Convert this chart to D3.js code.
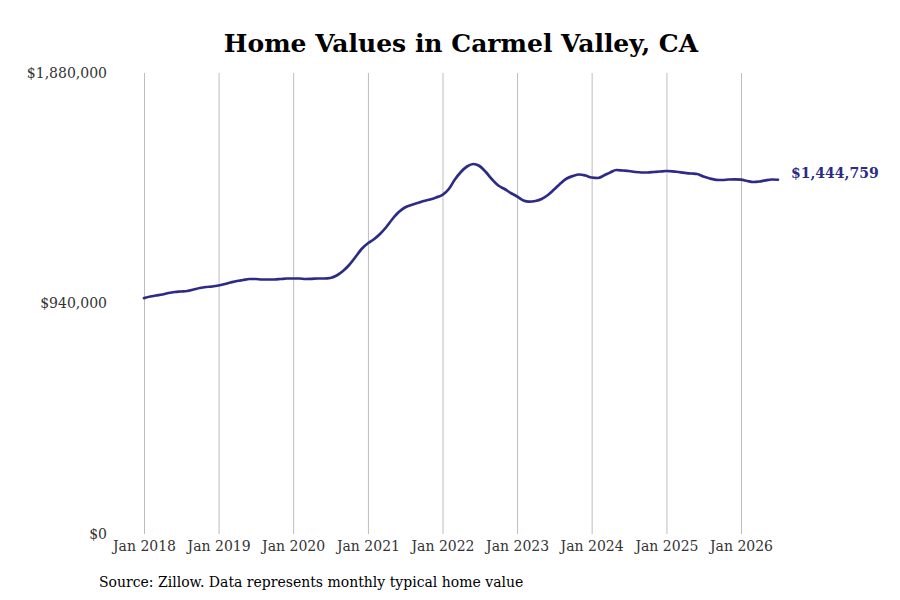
<!DOCTYPE html>
<html>
<head>
<meta charset="utf-8">
<script src="https://cdn.jsdelivr.net/npm/d3@7"></script>
<style>
  html, body { margin: 0; padding: 0; background: #fff; }
  svg { display: block; }
</style>
</head>
<body>
<svg id="chart" width="900" height="600"></svg>
<script>
// ---- Data ----
const startMonth = "2018-01";
const values = [
  // 2018
  962000, 968500, 972600, 976700, 982800, 986900, 988900, 991000, 997100, 1003200, 1007300, 1009300,
  // 2019
  1013400, 1019500, 1025600, 1031800, 1035800, 1039900, 1039900, 1037900, 1037900, 1037900, 1039900, 1042000,
  // 2020
  1042000, 1042000, 1039900, 1040700, 1042000, 1042000, 1044000, 1054200, 1072500, 1097000, 1129600, 1162300,
  // 2021
  1185500, 1203000, 1223400, 1252000, 1284600, 1313100, 1331500, 1341700, 1349800, 1358000, 1364100, 1372300,
  // 2022
  1382500, 1406900, 1443600, 1476300, 1498700, 1508900, 1500700, 1476300, 1445700, 1421200, 1406900, 1390600,
  // 2023
  1376400, 1360000, 1355200, 1358000, 1366200, 1382500, 1404900, 1429400, 1449800, 1460000, 1466100, 1462000,
  // 2024
  1453800, 1451800, 1462000, 1474200, 1484400, 1482400, 1480300, 1476300, 1474200, 1474200, 1476300, 1478300,
  // 2025
  1480300, 1479100, 1476300, 1473000, 1470200, 1468100, 1457900, 1449800, 1444500, 1443600, 1445700, 1446500,
  // 2026
  1444900, 1439600, 1435500, 1437500, 1442400, 1445700, 1444759
];
const yTicks = [0, 940000, 1880000];
const xTickYears = [2018, 2019, 2020, 2021, 2022, 2023, 2024, 2025, 2026];
const titleText = "Home Values in Carmel Valley, CA";
const sourceText = "Source: Zillow. Data represents monthly typical home value";

// ---- Build series ----
const parse = d3.timeParse("%Y-%m");
const start = parse(startMonth);
const data = values.map((v, i) => ({ date: d3.timeMonth.offset(start, i), value: v }));
const xTicks = xTickYears.map(y => new Date(y, 0, 1));

// ---- Layout ----
const svg = d3.select("#chart");
const x0 = 144, x1 = 741; // Jan 2018 .. Jan 2026
const yTop = 73, yBot = 534;
const lineColor = "#2e2b87";
const serif = "'DejaVu Serif', serif";

const x = d3.scaleTime()
  .domain([new Date(2018, 0, 1), new Date(2026, 0, 1)])
  .range([x0, x1]);
const y = d3.scaleLinear()
  .domain([0, 1880000])
  .range([yBot, yTop]);

// Vertical gridlines
const xAxis = d3.axisBottom(x)
  .tickValues(xTicks)
  .tickSize(-(yBot - yTop))
  .tickPadding(7)
  .tickFormat(d3.timeFormat("Jan %Y"));
const gx = svg.append("g")
  .attr("transform", `translate(0,${yBot})`)
  .call(xAxis);
gx.select(".domain").remove();
gx.selectAll(".tick line").attr("stroke", "#bdbdbd").attr("stroke-width", 1);
gx.selectAll(".tick text")
  .attr("font-family", serif)
  .attr("font-size", 14)
  .attr("fill", "#333");

// Y axis labels
const yAxis = d3.axisLeft(y)
  .tickValues(yTicks)
  .tickSize(0)
  .tickPadding(0)
  .tickFormat(d => "$" + d3.format(",")(d));
const gy = svg.append("g")
  .attr("transform", `translate(107,0)`)
  .call(yAxis);
gy.select(".domain").remove();
gy.selectAll(".tick text")
  .attr("font-family", serif)
  .attr("font-size", 14)
  .attr("fill", "#333");

// Line
const line = d3.line()
  .x(d => x(d.date))
  .y(d => y(d.value))
  .curve(d3.curveMonotoneX);
svg.append("path")
  .datum(data)
  .attr("fill", "none")
  .attr("stroke", lineColor)
  .attr("stroke-width", 2.7)
  .attr("stroke-linejoin", "round")
  .attr("stroke-linecap", "round")
  .attr("d", line);

// End label
const last = data[data.length - 1];
svg.append("text")
  .attr("x", x(last.date) + 13)
  .attr("y", y(last.value) - 6)
  .attr("dominant-baseline", "middle")
  .attr("font-family", serif)
  .attr("font-weight", "bold")
  .attr("font-size", 14)
  .attr("fill", lineColor)
  .text("$" + d3.format(",")(last.value));

// Title
svg.append("text")
  .attr("x", 461)
  .attr("y", 52)
  .attr("text-anchor", "middle")
  .attr("font-family", serif)
  .attr("font-weight", "bold")
  .attr("font-size", 25)
  .attr("fill", "#000")
  .text(titleText);

// Source
svg.append("text")
  .attr("x", 99)
  .attr("y", 587)
  .attr("font-family", serif)
  .attr("font-size", 14)
  .attr("fill", "#000")
  .text(sourceText);
</script>
</body>
</html>
